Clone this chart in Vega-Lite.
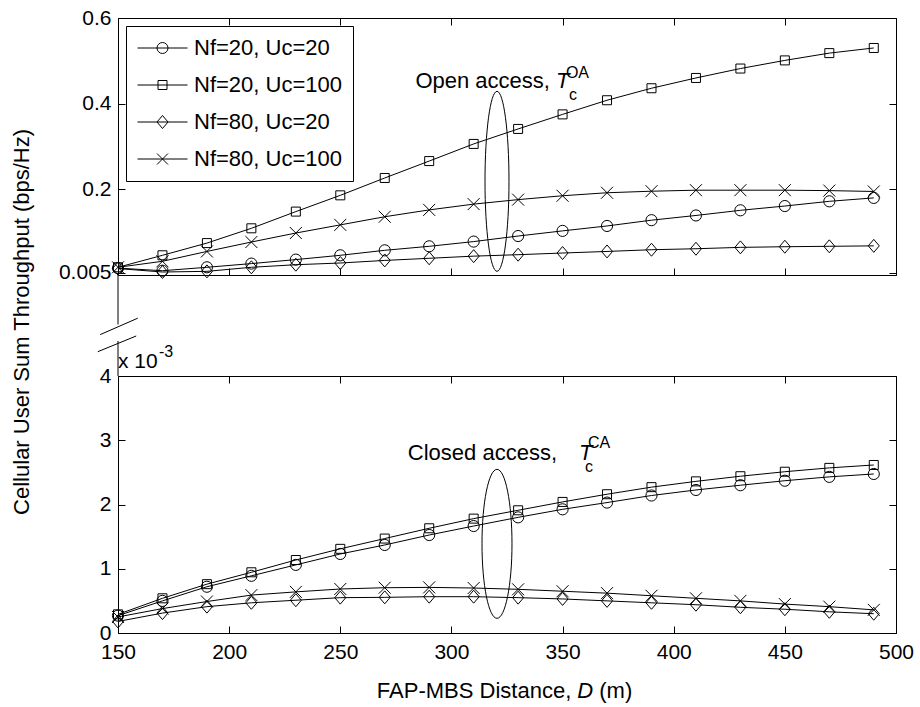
{
  "$schema": "https://vega.github.io/schema/vega-lite/v6.json",
  "padding": {"left": 10, "top": 6, "right": 5, "bottom": 5},
  "background": "white",
  "config": {
    "font": "Liberation Sans",
    "view": {"stroke": "#000", "strokeWidth": 1},
    "axis": {"grid": false, "domain": false, "ticks": true, "tickColor": "#000", "tickSize": -7, "tickWidth": 1, "labelColor": "#000", "labelFont": "Liberation Sans", "labelFontSize": 21, "labelFlush": false, "labelOverlap": false, "title": null},
    "legend": {"labelFont": "Liberation Sans", "labelFontSize": 22, "labelColor": "#000"}
  },
  "bounds": "flush",
  "spacing": 101,
  "data": {"values": [
    {"access":"OA","series":"Nf=20, Uc=20","D":150,"T":0.016},
    {"access":"OA","series":"Nf=20, Uc=20","D":170,"T":0.010},
    {"access":"OA","series":"Nf=20, Uc=20","D":190,"T":0.018},
    {"access":"OA","series":"Nf=20, Uc=20","D":210,"T":0.0266},
    {"access":"OA","series":"Nf=20, Uc=20","D":230,"T":0.036},
    {"access":"OA","series":"Nf=20, Uc=20","D":250,"T":0.046},
    {"access":"OA","series":"Nf=20, Uc=20","D":270,"T":0.0576},
    {"access":"OA","series":"Nf=20, Uc=20","D":290,"T":0.067},
    {"access":"OA","series":"Nf=20, Uc=20","D":310,"T":0.078},
    {"access":"OA","series":"Nf=20, Uc=20","D":330,"T":0.091},
    {"access":"OA","series":"Nf=20, Uc=20","D":350,"T":0.103},
    {"access":"OA","series":"Nf=20, Uc=20","D":370,"T":0.1145},
    {"access":"OA","series":"Nf=20, Uc=20","D":390,"T":0.128},
    {"access":"OA","series":"Nf=20, Uc=20","D":410,"T":0.139},
    {"access":"OA","series":"Nf=20, Uc=20","D":430,"T":0.151},
    {"access":"OA","series":"Nf=20, Uc=20","D":450,"T":0.161},
    {"access":"OA","series":"Nf=20, Uc=20","D":470,"T":0.172},
    {"access":"OA","series":"Nf=20, Uc=20","D":490,"T":0.180},
    {"access":"OA","series":"Nf=20, Uc=100","D":150,"T":0.018},
    {"access":"OA","series":"Nf=20, Uc=100","D":170,"T":0.046},
    {"access":"OA","series":"Nf=20, Uc=100","D":190,"T":0.0745},
    {"access":"OA","series":"Nf=20, Uc=100","D":210,"T":0.109},
    {"access":"OA","series":"Nf=20, Uc=100","D":230,"T":0.148},
    {"access":"OA","series":"Nf=20, Uc=100","D":250,"T":0.186},
    {"access":"OA","series":"Nf=20, Uc=100","D":270,"T":0.2265},
    {"access":"OA","series":"Nf=20, Uc=100","D":290,"T":0.266},
    {"access":"OA","series":"Nf=20, Uc=100","D":310,"T":0.306},
    {"access":"OA","series":"Nf=20, Uc=100","D":330,"T":0.341},
    {"access":"OA","series":"Nf=20, Uc=100","D":350,"T":0.375},
    {"access":"OA","series":"Nf=20, Uc=100","D":370,"T":0.408},
    {"access":"OA","series":"Nf=20, Uc=100","D":390,"T":0.436},
    {"access":"OA","series":"Nf=20, Uc=100","D":410,"T":0.460},
    {"access":"OA","series":"Nf=20, Uc=100","D":430,"T":0.482},
    {"access":"OA","series":"Nf=20, Uc=100","D":450,"T":0.501},
    {"access":"OA","series":"Nf=20, Uc=100","D":470,"T":0.518},
    {"access":"OA","series":"Nf=20, Uc=100","D":490,"T":0.530},
    {"access":"OA","series":"Nf=80, Uc=20","D":150,"T":0.015},
    {"access":"OA","series":"Nf=80, Uc=20","D":170,"T":0.007},
    {"access":"OA","series":"Nf=80, Uc=20","D":190,"T":0.0085},
    {"access":"OA","series":"Nf=80, Uc=20","D":210,"T":0.018},
    {"access":"OA","series":"Nf=80, Uc=20","D":230,"T":0.024},
    {"access":"OA","series":"Nf=80, Uc=20","D":250,"T":0.028},
    {"access":"OA","series":"Nf=80, Uc=20","D":270,"T":0.034},
    {"access":"OA","series":"Nf=80, Uc=20","D":290,"T":0.039},
    {"access":"OA","series":"Nf=80, Uc=20","D":310,"T":0.044},
    {"access":"OA","series":"Nf=80, Uc=20","D":330,"T":0.0474},
    {"access":"OA","series":"Nf=80, Uc=20","D":350,"T":0.0513},
    {"access":"OA","series":"Nf=80, Uc=20","D":370,"T":0.055},
    {"access":"OA","series":"Nf=80, Uc=20","D":390,"T":0.059},
    {"access":"OA","series":"Nf=80, Uc=20","D":410,"T":0.0613},
    {"access":"OA","series":"Nf=80, Uc=20","D":430,"T":0.0645},
    {"access":"OA","series":"Nf=80, Uc=20","D":450,"T":0.066},
    {"access":"OA","series":"Nf=80, Uc=20","D":470,"T":0.067},
    {"access":"OA","series":"Nf=80, Uc=20","D":490,"T":0.068},
    {"access":"OA","series":"Nf=80, Uc=100","D":150,"T":0.018},
    {"access":"OA","series":"Nf=80, Uc=100","D":170,"T":0.032},
    {"access":"OA","series":"Nf=80, Uc=100","D":190,"T":0.055},
    {"access":"OA","series":"Nf=80, Uc=100","D":210,"T":0.077},
    {"access":"OA","series":"Nf=80, Uc=100","D":230,"T":0.098},
    {"access":"OA","series":"Nf=80, Uc=100","D":250,"T":0.117},
    {"access":"OA","series":"Nf=80, Uc=100","D":270,"T":0.136},
    {"access":"OA","series":"Nf=80, Uc=100","D":290,"T":0.152},
    {"access":"OA","series":"Nf=80, Uc=100","D":310,"T":0.1655},
    {"access":"OA","series":"Nf=80, Uc=100","D":330,"T":0.176},
    {"access":"OA","series":"Nf=80, Uc=100","D":350,"T":0.185},
    {"access":"OA","series":"Nf=80, Uc=100","D":370,"T":0.192},
    {"access":"OA","series":"Nf=80, Uc=100","D":390,"T":0.1956},
    {"access":"OA","series":"Nf=80, Uc=100","D":410,"T":0.198},
    {"access":"OA","series":"Nf=80, Uc=100","D":430,"T":0.198},
    {"access":"OA","series":"Nf=80, Uc=100","D":450,"T":0.198},
    {"access":"OA","series":"Nf=80, Uc=100","D":470,"T":0.197},
    {"access":"OA","series":"Nf=80, Uc=100","D":490,"T":0.195},
    {"access":"CA","series":"Nf=20, Uc=20","D":150,"T":0.00027},
    {"access":"CA","series":"Nf=20, Uc=20","D":170,"T":0.00050},
    {"access":"CA","series":"Nf=20, Uc=20","D":190,"T":0.00072},
    {"access":"CA","series":"Nf=20, Uc=20","D":210,"T":0.00089},
    {"access":"CA","series":"Nf=20, Uc=20","D":230,"T":0.00106},
    {"access":"CA","series":"Nf=20, Uc=20","D":250,"T":0.00123},
    {"access":"CA","series":"Nf=20, Uc=20","D":270,"T":0.00137},
    {"access":"CA","series":"Nf=20, Uc=20","D":290,"T":0.001525},
    {"access":"CA","series":"Nf=20, Uc=20","D":310,"T":0.001665},
    {"access":"CA","series":"Nf=20, Uc=20","D":330,"T":0.00180},
    {"access":"CA","series":"Nf=20, Uc=20","D":350,"T":0.001925},
    {"access":"CA","series":"Nf=20, Uc=20","D":370,"T":0.00203},
    {"access":"CA","series":"Nf=20, Uc=20","D":390,"T":0.00214},
    {"access":"CA","series":"Nf=20, Uc=20","D":410,"T":0.002226},
    {"access":"CA","series":"Nf=20, Uc=20","D":430,"T":0.00230},
    {"access":"CA","series":"Nf=20, Uc=20","D":450,"T":0.00237},
    {"access":"CA","series":"Nf=20, Uc=20","D":470,"T":0.00243},
    {"access":"CA","series":"Nf=20, Uc=20","D":490,"T":0.002475},
    {"access":"CA","series":"Nf=20, Uc=100","D":150,"T":0.00029},
    {"access":"CA","series":"Nf=20, Uc=100","D":170,"T":0.00054},
    {"access":"CA","series":"Nf=20, Uc=100","D":190,"T":0.00076},
    {"access":"CA","series":"Nf=20, Uc=100","D":210,"T":0.000945},
    {"access":"CA","series":"Nf=20, Uc=100","D":230,"T":0.001136},
    {"access":"CA","series":"Nf=20, Uc=100","D":250,"T":0.00131},
    {"access":"CA","series":"Nf=20, Uc=100","D":270,"T":0.00147},
    {"access":"CA","series":"Nf=20, Uc=100","D":290,"T":0.00163},
    {"access":"CA","series":"Nf=20, Uc=100","D":310,"T":0.00178},
    {"access":"CA","series":"Nf=20, Uc=100","D":330,"T":0.00191},
    {"access":"CA","series":"Nf=20, Uc=100","D":350,"T":0.00204},
    {"access":"CA","series":"Nf=20, Uc=100","D":370,"T":0.00216},
    {"access":"CA","series":"Nf=20, Uc=100","D":390,"T":0.00227},
    {"access":"CA","series":"Nf=20, Uc=100","D":410,"T":0.00236},
    {"access":"CA","series":"Nf=20, Uc=100","D":430,"T":0.00244},
    {"access":"CA","series":"Nf=20, Uc=100","D":450,"T":0.00251},
    {"access":"CA","series":"Nf=20, Uc=100","D":470,"T":0.00257},
    {"access":"CA","series":"Nf=20, Uc=100","D":490,"T":0.002615},
    {"access":"CA","series":"Nf=80, Uc=20","D":150,"T":0.00018},
    {"access":"CA","series":"Nf=80, Uc=20","D":170,"T":0.00031},
    {"access":"CA","series":"Nf=80, Uc=20","D":190,"T":0.00041},
    {"access":"CA","series":"Nf=80, Uc=20","D":210,"T":0.00047},
    {"access":"CA","series":"Nf=80, Uc=20","D":230,"T":0.00051},
    {"access":"CA","series":"Nf=80, Uc=20","D":250,"T":0.00055},
    {"access":"CA","series":"Nf=80, Uc=20","D":270,"T":0.000555},
    {"access":"CA","series":"Nf=80, Uc=20","D":290,"T":0.000565},
    {"access":"CA","series":"Nf=80, Uc=20","D":310,"T":0.000565},
    {"access":"CA","series":"Nf=80, Uc=20","D":330,"T":0.00055},
    {"access":"CA","series":"Nf=80, Uc=20","D":350,"T":0.00053},
    {"access":"CA","series":"Nf=80, Uc=20","D":370,"T":0.00050},
    {"access":"CA","series":"Nf=80, Uc=20","D":390,"T":0.00047},
    {"access":"CA","series":"Nf=80, Uc=20","D":410,"T":0.00044},
    {"access":"CA","series":"Nf=80, Uc=20","D":430,"T":0.00040},
    {"access":"CA","series":"Nf=80, Uc=20","D":450,"T":0.00037},
    {"access":"CA","series":"Nf=80, Uc=20","D":470,"T":0.00033},
    {"access":"CA","series":"Nf=80, Uc=20","D":490,"T":0.00030},
    {"access":"CA","series":"Nf=80, Uc=100","D":150,"T":0.00025},
    {"access":"CA","series":"Nf=80, Uc=100","D":170,"T":0.00038},
    {"access":"CA","series":"Nf=80, Uc=100","D":190,"T":0.00049},
    {"access":"CA","series":"Nf=80, Uc=100","D":210,"T":0.00059},
    {"access":"CA","series":"Nf=80, Uc=100","D":230,"T":0.00064},
    {"access":"CA","series":"Nf=80, Uc=100","D":250,"T":0.000685},
    {"access":"CA","series":"Nf=80, Uc=100","D":270,"T":0.000705},
    {"access":"CA","series":"Nf=80, Uc=100","D":290,"T":0.00071},
    {"access":"CA","series":"Nf=80, Uc=100","D":310,"T":0.00070},
    {"access":"CA","series":"Nf=80, Uc=100","D":330,"T":0.00068},
    {"access":"CA","series":"Nf=80, Uc=100","D":350,"T":0.00065},
    {"access":"CA","series":"Nf=80, Uc=100","D":370,"T":0.00062},
    {"access":"CA","series":"Nf=80, Uc=100","D":390,"T":0.00058},
    {"access":"CA","series":"Nf=80, Uc=100","D":410,"T":0.00054},
    {"access":"CA","series":"Nf=80, Uc=100","D":430,"T":0.00050},
    {"access":"CA","series":"Nf=80, Uc=100","D":450,"T":0.00045},
    {"access":"CA","series":"Nf=80, Uc=100","D":470,"T":0.00041},
    {"access":"CA","series":"Nf=80, Uc=100","D":490,"T":0.00036}
  ]},
  "vconcat": [
    {
      "width": 778,
      "height": 257,
      "resolve": {"axis": {"x": "independent", "y": "independent"}, "scale": {"shape": "independent"}},
      "layer": [
        {
          "transform": [{"filter": "datum.access === 'OA'"}],
          "mark": {"type": "line", "color": "#000", "strokeWidth": 1},
          "encoding": {
            "x": {"field": "D", "type": "quantitative", "scale": {"domain": [150, 500]}, "axis": {"orient": "bottom", "values": [150, 200, 250, 300, 350, 400, 450, 500], "labels": false}},
            "y": {"field": "T", "type": "quantitative", "scale": {"domain": [0.005, 0.6]}, "axis": {"orient": "left", "values": [0.005, 0.2, 0.4, 0.6], "format": "~g", "labelPadding": 14}},
            "detail": {"field": "series"}
          }
        },
        {
          "transform": [{"filter": "datum.access === 'OA'"}],
          "mark": {"type": "point", "filled": false, "color": "#000", "strokeWidth": 1, "size": 144, "opacity": 1},
          "encoding": {
            "x": {"field": "D", "type": "quantitative", "scale": {"domain": [150, 500]}, "axis": {"orient": "top", "values": [150, 200, 250, 300, 350, 400, 450, 500], "labels": false}},
            "y": {"field": "T", "type": "quantitative", "scale": {"domain": [0.005, 0.6]}, "axis": {"orient": "right", "values": [0.005, 0.2, 0.4, 0.6], "labels": false}},
            "shape": {"field": "series", "type": "nominal", "legend": null,
              "scale": {"domain": ["Nf=20, Uc=20", "Nf=20, Uc=100", "Nf=80, Uc=20", "Nf=80, Uc=100"],
                "range": ["M0.93,0A0.93,0.93 0 1,1 -0.93,0A0.93,0.93 0 1,1 0.93,0", "M-0.75,-0.75H0.75V0.75H-0.75Z", "M0,-1.08L0.92,0L0,1.08L-0.92,0Z", "M-1,-1L1,1M-1,1L1,-1"]}}
          }
        },
        {
          "transform": [{"filter": "false"}],
          "mark": {"type": "point", "filled": false, "color": "#000", "strokeWidth": 1, "opacity": 1},
          "encoding": {
            "shape": {"field": "series", "type": "nominal",
              "scale": {"domain": ["Nf=20, Uc=20", "Nf=20, Uc=100", "Nf=80, Uc=20", "Nf=80, Uc=100"],
                "range": ["M-1,0H1M0.22,0A0.22,0.22 0 1,1 -0.22,0A0.22,0.22 0 1,1 0.22,0", "M-1,0H1M-0.18,-0.18H0.18V0.18H-0.18Z", "M-1,0H1M0,-0.26L0.22,0L0,0.26L-0.22,0Z", "M-1,0H1M-0.22,-0.22L0.22,0.22M-0.22,0.22L0.22,-0.22"]},
              "legend": {"title": null, "orient": "top-left", "offset": 8, "padding": 11, "symbolSize": 2500, "clipHeight": 22, "symbolStrokeWidth": 1, "symbolStrokeColor": "#000", "symbolOpacity": 1, "labelOffset": 6, "rowPadding": 15, "labelLimit": 400, "strokeColor": "#000", "fillColor": "#fff", "labelFontSize": 22}}
          }
        },
        {
          "data": {"values": [{}]},
          "mark": {"type": "point", "shape": "M0,-1A0.1333,1 0 1,1 0,1A0.1333,1 0 1,1 0,-1", "size": 32400, "filled": false, "color": "#000", "strokeWidth": 1, "opacity": 1},
          "encoding": {
            "x": {"datum": 320.5, "type": "quantitative", "axis": null},
            "y": {"datum": 0.2187, "type": "quantitative", "axis": null}
          }
        },
        {
          "data": {"values": [{}]},
          "mark": {"type": "text", "text": "Open access,", "align": "right", "baseline": "alphabetic", "dx": -6, "fontSize": 22, "color": "#000"},
          "encoding": {"x": {"datum": 347, "type": "quantitative", "axis": null}, "y": {"datum": 0.437, "type": "quantitative", "axis": null}}
        },
        {
          "data": {"values": [{}]},
          "mark": {"type": "text", "text": "T", "align": "left", "baseline": "alphabetic", "fontSize": 22, "fontStyle": "italic", "color": "#000"},
          "encoding": {"x": {"datum": 347, "type": "quantitative", "axis": null}, "y": {"datum": 0.437, "type": "quantitative", "axis": null}}
        },
        {
          "data": {"values": [{}]},
          "mark": {"type": "text", "text": "OA", "align": "left", "baseline": "alphabetic", "dx": 10, "dy": -10, "fontSize": 16, "color": "#000"},
          "encoding": {"x": {"datum": 347, "type": "quantitative", "axis": null}, "y": {"datum": 0.437, "type": "quantitative", "axis": null}}
        },
        {
          "data": {"values": [{}]},
          "mark": {"type": "text", "text": "c", "align": "left", "baseline": "alphabetic", "dx": 13, "dy": 12, "fontSize": 16, "color": "#000"},
          "encoding": {"x": {"datum": 347, "type": "quantitative", "axis": null}, "y": {"datum": 0.437, "type": "quantitative", "axis": null}}
        },
        {
          "data": {"values": [{}]},
          "mark": {"type": "rule", "color": "#000", "strokeWidth": 1},
          "encoding": {"x": {"datum": 150, "type": "quantitative", "axis": null}, "y": {"datum": 0.005, "type": "quantitative", "axis": null}, "y2": {"datum": -0.1154}}
        },
        {
          "data": {"values": [{}]},
          "mark": {"type": "rule", "color": "#000", "strokeWidth": 1},
          "encoding": {"x": {"datum": 142.0, "type": "quantitative", "axis": null}, "x2": {"datum": 158.9}, "y": {"datum": -0.1392, "type": "quantitative", "axis": null}, "y2": {"datum": -0.1008}}
        },
        {
          "data": {"values": [{}]},
          "mark": {"type": "text", "text": "Cellular User Sum Throughput (bps/Hz)", "angle": 270, "align": "center", "baseline": "middle", "fontSize": 22, "color": "#000"},
          "encoding": {"x": {"datum": 106.6, "type": "quantitative", "axis": null}, "y": {"datum": -0.1095, "type": "quantitative", "axis": null}}
        }
      ]
    },
    {
      "width": 778,
      "height": 257,
      "resolve": {"axis": {"x": "independent", "y": "independent"}},
      "layer": [
        {
          "transform": [{"filter": "datum.access === 'CA'"}],
          "mark": {"type": "line", "color": "#000", "strokeWidth": 1},
          "encoding": {
            "x": {"field": "D", "type": "quantitative", "scale": {"domain": [150, 500]}, "axis": {"orient": "bottom", "values": [150, 200, 250, 300, 350, 400, 450, 500], "labelPadding": 15}},
            "y": {"field": "T", "type": "quantitative", "scale": {"domain": [0, 0.004]}, "axis": {"orient": "left", "values": [0, 0.001, 0.002, 0.003, 0.004], "labelExpr": "round(datum.value * 1000) + ''", "labelPadding": 14}},
            "detail": {"field": "series"}
          }
        },
        {
          "transform": [{"filter": "datum.access === 'CA'"}],
          "mark": {"type": "point", "filled": false, "color": "#000", "strokeWidth": 1, "size": 144, "opacity": 1},
          "encoding": {
            "x": {"field": "D", "type": "quantitative", "scale": {"domain": [150, 500]}, "axis": {"orient": "top", "values": [150, 200, 250, 300, 350, 400, 450, 500], "labels": false}},
            "y": {"field": "T", "type": "quantitative", "scale": {"domain": [0, 0.004]}, "axis": {"orient": "right", "values": [0, 0.001, 0.002, 0.003, 0.004], "labels": false}},
            "shape": {"field": "series", "type": "nominal", "legend": null,
              "scale": {"domain": ["Nf=20, Uc=20", "Nf=20, Uc=100", "Nf=80, Uc=20", "Nf=80, Uc=100"],
                "range": ["M0.93,0A0.93,0.93 0 1,1 -0.93,0A0.93,0.93 0 1,1 0.93,0", "M-0.75,-0.75H0.75V0.75H-0.75Z", "M0,-1.08L0.92,0L0,1.08L-0.92,0Z", "M-1,-1L1,1M-1,1L1,-1"]}}
          }
        },
        {
          "data": {"values": [{}]},
          "mark": {"type": "point", "shape": "M0,-1A0.2013,1 0 1,1 0,1A0.2013,1 0 1,1 0,-1", "size": 22201, "filled": false, "color": "#000", "strokeWidth": 1, "opacity": 1},
          "encoding": {
            "x": {"datum": 320.5, "type": "quantitative", "axis": null},
            "y": {"datum": 0.001388, "type": "quantitative", "axis": null}
          }
        },
        {
          "data": {"values": [{}]},
          "mark": {"type": "text", "text": "Closed access,", "align": "right", "baseline": "alphabetic", "dx": -22, "fontSize": 22, "color": "#000"},
          "encoding": {"x": {"datum": 357.4, "type": "quantitative", "axis": null}, "y": {"datum": 0.002693, "type": "quantitative", "axis": null}}
        },
        {
          "data": {"values": [{}]},
          "mark": {"type": "text", "text": "T", "align": "left", "baseline": "alphabetic", "fontSize": 22, "fontStyle": "italic", "color": "#000"},
          "encoding": {"x": {"datum": 357.4, "type": "quantitative", "axis": null}, "y": {"datum": 0.002693, "type": "quantitative", "axis": null}}
        },
        {
          "data": {"values": [{}]},
          "mark": {"type": "text", "text": "CA", "align": "left", "baseline": "alphabetic", "dx": 9, "dy": -12, "fontSize": 16, "color": "#000"},
          "encoding": {"x": {"datum": 357.4, "type": "quantitative", "axis": null}, "y": {"datum": 0.002693, "type": "quantitative", "axis": null}}
        },
        {
          "data": {"values": [{}]},
          "mark": {"type": "text", "text": "c", "align": "left", "baseline": "alphabetic", "dx": 6, "dy": 12, "fontSize": 16, "color": "#000"},
          "encoding": {"x": {"datum": 357.4, "type": "quantitative", "axis": null}, "y": {"datum": 0.002693, "type": "quantitative", "axis": null}}
        },
        {
          "data": {"values": [{}]},
          "mark": {"type": "text", "text": "x 10", "align": "left", "baseline": "alphabetic", "dy": -8, "fontSize": 21, "color": "#000"},
          "encoding": {"x": {"datum": 150, "type": "quantitative", "axis": null}, "y": {"datum": 0.004, "type": "quantitative", "axis": null}}
        },
        {
          "data": {"values": [{}]},
          "mark": {"type": "text", "text": "-3", "align": "left", "baseline": "alphabetic", "dx": 41, "dy": -19, "fontSize": 16, "color": "#000"},
          "encoding": {"x": {"datum": 150, "type": "quantitative", "axis": null}, "y": {"datum": 0.004, "type": "quantitative", "axis": null}}
        },
        {
          "data": {"values": [{}]},
          "mark": {"type": "rule", "color": "#000", "strokeWidth": 1},
          "encoding": {"x": {"datum": 150, "type": "quantitative", "axis": null}, "y": {"datum": 0.004, "type": "quantitative", "axis": null}, "y2": {"datum": 0.004545}}
        },
        {
          "data": {"values": [{}]},
          "mark": {"type": "rule", "color": "#000", "strokeWidth": 1},
          "encoding": {"x": {"datum": 140.9, "type": "quantitative", "axis": null}, "x2": {"datum": 158.2}, "y": {"datum": 0.004378, "type": "quantitative", "axis": null}, "y2": {"datum": 0.004623}}
        },
        {
          "data": {"values": [{}]},
          "mark": {"type": "text", "text": "FAP-MBS Distance,", "align": "right", "baseline": "alphabetic", "dx": -14, "dy": 65, "fontSize": 22, "color": "#000"},
          "encoding": {"x": {"datum": 360.2, "type": "quantitative", "axis": null}, "y": {"datum": 0, "type": "quantitative", "axis": null}}
        },
        {
          "data": {"values": [{}]},
          "mark": {"type": "text", "text": "D", "align": "center", "baseline": "alphabetic", "dy": 65, "fontSize": 22, "fontStyle": "italic", "color": "#000"},
          "encoding": {"x": {"datum": 360.2, "type": "quantitative", "axis": null}, "y": {"datum": 0, "type": "quantitative", "axis": null}}
        },
        {
          "data": {"values": [{}]},
          "mark": {"type": "text", "text": "(m)", "align": "left", "baseline": "alphabetic", "dx": 14, "dy": 65, "fontSize": 22, "color": "#000"},
          "encoding": {"x": {"datum": 360.2, "type": "quantitative", "axis": null}, "y": {"datum": 0, "type": "quantitative", "axis": null}}
        }
      ]
    }
  ]
}
